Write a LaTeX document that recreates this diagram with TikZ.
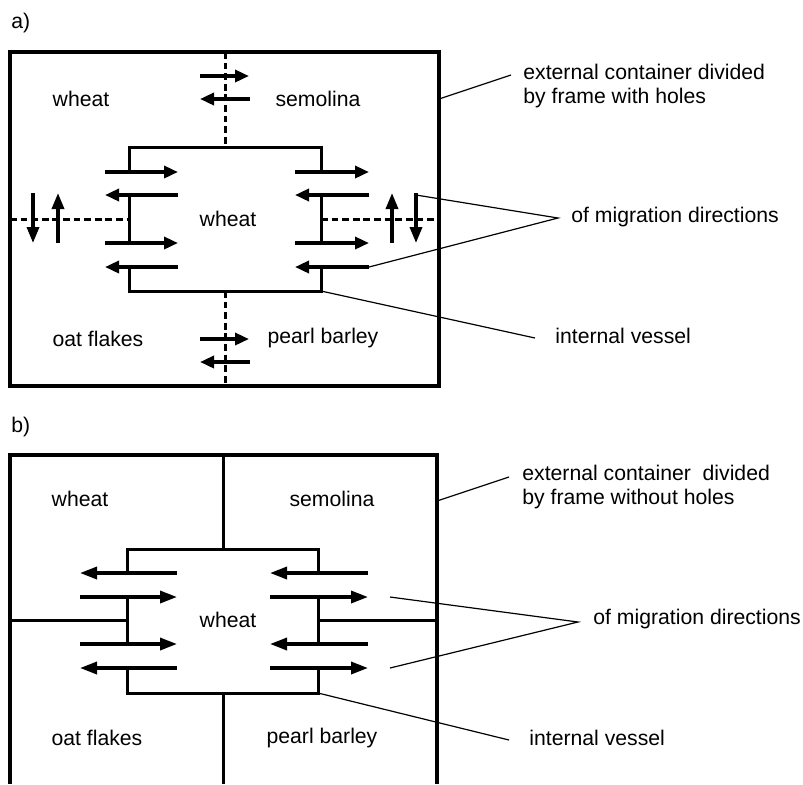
\documentclass[tikz,border=0pt]{standalone}
\usepackage{fontspec}
\setmainfont{Liberation Sans}
\usetikzlibrary{arrows.meta,positioning,calc}

\begin{document}
\begin{tikzpicture}[x=0.5pt,y=-0.5pt,
    >={Triangle[length=7pt,width=6pt]},
    wall/.style={line width=1.5pt},
    frame/.style={line width=2pt},
    flow/.style={->,line width=1.7pt},
    holes/.style={line width=1.5pt,dash pattern=on 3.4pt off 1.9pt},
    lead/.style={line width=0.6pt},
    lbl/.style={inner sep=0pt,font=\fontsize{10.6}{12}\selectfont},
    note/.style={lbl,anchor=west,align=left}]
  \useasboundingbox (0,0) rectangle (803,784);

  % a) container with a holed frame
  \node[lbl,anchor=west] (capA) at (11,23) {a)};
  \draw[frame] (10,52) rectangle (439,386);
  \draw[holes] (225,52) -- (225,147) (225,291) -- (225,386)
               (10,219) -- (129,219) (321,219) -- (439,219);
  % inner vessel, open where the grain passes
  \draw[wall] (129,172) -- (129,147) -- (321,147) -- (321,172)
              (129,195) -- (129,243) (321,195) -- (321,243)
              (129,267) -- (129,291) -- (321,291) -- (321,267);
  \foreach \y in {76,339} \draw[flow] (200,\y) -- (249,\y);
  \foreach \y in {99,362} \draw[flow] (250,\y) -- (200,\y);
  \foreach \y in {172,243} {
    \draw[flow] (105,\y) -- (178,\y);
    \draw[flow] (295,\y) -- (369,\y);
  }
  \foreach \y in {195,267} {
    \draw[flow] (178,\y) -- (105,\y);
    \draw[flow] (369,\y) -- (295,\y);
  }
  \begin{scope}[>={Triangle[length=8pt,width=6pt]}]
    \draw[flow] (33,193) -- (33,243);
    \draw[flow] (58,243) -- (58,193);
    \draw[flow] (392,243) -- (392,193);
    \draw[flow] (416,193) -- (416,243);
  \end{scope}
  \node[lbl] (wheatA) at (81,99) {wheat};
  \node[lbl] (semA) at (318,99) {semolina};
  \node[lbl] (midA) at (228,219) {wheat};
  \node[lbl] (oatA) at (98,339) {oat flakes};
  \node[lbl] (barA) at (323,338) {pearl barley};
  % callouts
  \node[note] (extA) at (523,86) {external container divided\\by frame with holes};
  \node[note] (migA) at (571,217) {of migration directions};
  \node[note] (vesA) at (555,336) {internal vessel};
  \coordinate (frmA) at (439,99);
  \coordinate (extAend) at (511,75);
  \coordinate (migAend) at (558,218);
  \coordinate (upA) at (416,195);
  \coordinate (lowA) at (369,267);
  \coordinate (boxA) at (321,291);
  \coordinate (vesAend) at (535,338);
  \draw[lead] (frmA) -- (extAend);
  \draw[lead] (upA) -- (migAend) -- (lowA);
  \draw[lead] (boxA) -- (vesAend);

  % b) container with a solid frame
  \node[lbl,anchor=west] (capB) at (11,427) {b)};
  \draw[frame] (10,784) -- (10,455) -- (437,455) -- (437,784);
  \draw[wall] (223,455) -- (223,549) (223,693) -- (223,784)
              (10,620) -- (127,620) (318,620) -- (437,620);
  \draw[wall] (127,573) -- (127,549) -- (318,549) -- (318,573)
              (127,597) -- (127,644) (318,597) -- (318,644)
              (127,668) -- (127,693) -- (318,693) -- (318,668);
  \begin{scope}[>={Triangle[length=8.5pt,width=6pt]}]
    \foreach \y in {573,668} \draw[flow] (177,\y) -- (80,\y);
    \foreach \y in {597,644} \draw[flow] (80,\y) -- (177,\y);
    \foreach \y in {573,644} \draw[flow] (368,\y) -- (270,\y);
    \foreach \y in {597,668} \draw[flow] (270,\y) -- (368,\y);
  \end{scope}
  \node[lbl] (wheatB) at (80,499) {wheat};
  \node[lbl] (semB) at (332,499) {semolina};
  \node[lbl] (midB) at (228,620) {wheat};
  \node[lbl] (oatB) at (97,738) {oat flakes};
  \node[lbl] (barB) at (322,738) {pearl barley};
  % callouts
  \node[note] (extB) at (522,487) {external container\ \ divided\\by frame without holes};
  \node[note] (migB) at (593,619) {of migration directions};
  \node[note] (vesB) at (529,738) {internal vessel};
  \coordinate (frmB) at (437,501);
  \coordinate (extBend) at (509,477);
  \coordinate (migBend) at (578,622);
  \coordinate (upB) at (390,597);
  \coordinate (lowB) at (390,668);
  \coordinate (boxB) at (318,693);
  \coordinate (vesBend) at (509,740);
  \draw[lead] (frmB) -- (extBend);
  \draw[lead] (upB) -- (migBend) -- (lowB);
  \draw[lead] (boxB) -- (vesBend);
\end{tikzpicture}
\end{document}
